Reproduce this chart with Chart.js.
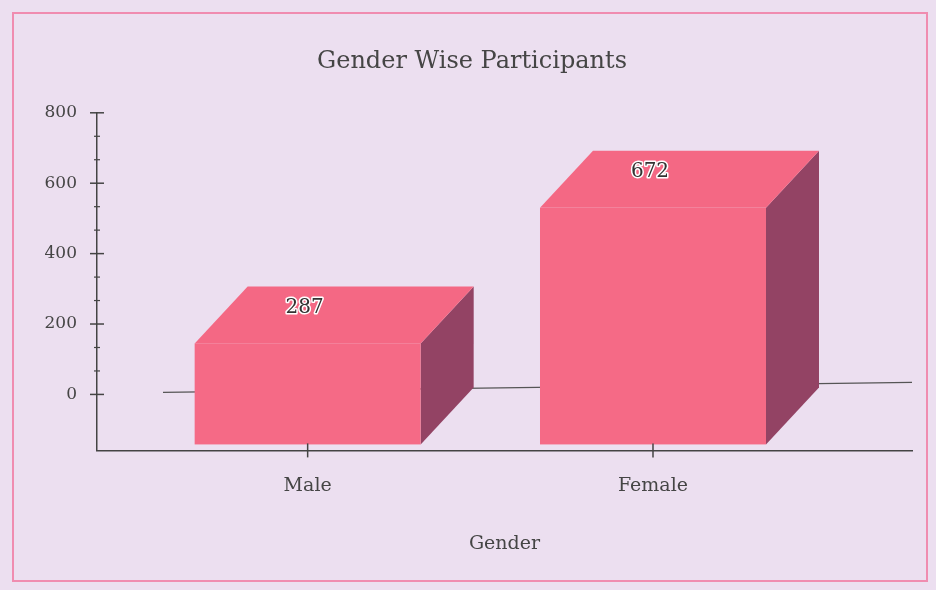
<!DOCTYPE html>
<html>
<head>
<meta charset="utf-8">
<script src="https://cdn.jsdelivr.net/npm/chart.js@4.4.1/dist/chart.umd.min.js"></script>
<style>
  html, body { margin: 0; padding: 0; background: #ecdff0; }
  #wrap { position: relative; width: 936px; height: 590px; }
  #frame { position: absolute; left: 12px; top: 12px; width: 916px; height: 570px; border: 2px solid #f08cb0; box-sizing: border-box; }
  canvas { position: absolute; left: 0; top: 0; }
</style>
</head>
<body>
<div id="wrap">
  <div id="frame"></div>
  <canvas id="c" width="936" height="590"></canvas>
</div>
<script>
const categories = ["Male", "Female"];
const participants = [287, 672];
const majorTicks = [0, 200, 400, 600, 800];
const minorTicks = [66.7, 133.3, 266.7, 333.3, 466.7, 533.3, 666.7, 733.3];

const FONT = "'DejaVu Serif', 'Liberation Serif', serif";
const TEXT = "#454545";

// 3D box plugin: front face shifted down, back face shifted up-right
const box3d = {
  id: "box3d",
  beforeDatasetsDraw(chart) {
    const { ctx, chartArea, scales } = chart;
    const y0 = scales.y.getPixelForValue(0);
    ctx.save();
    ctx.strokeStyle = "#555";
    ctx.lineWidth = 1.2;
    ctx.beginPath();
    ctx.moveTo(163, y0 - 2);
    ctx.lineTo(chartArea.right, y0 - 12);
    ctx.stroke();
    ctx.restore();
  },
  afterDatasetsDraw(chart) {
    const { ctx } = chart;
    const meta = chart.getDatasetMeta(0);
    const dyFront = 50, dx = 53, dyBack = -57;
    meta.data.forEach((el, i) => {
      const p = el.getProps(["x", "y", "base", "width"], true);
      const l = p.x - p.width / 2, r = p.x + p.width / 2;
      const t = p.y + dyFront, b = p.base + dyFront;
      ctx.save();
      // side face
      ctx.fillStyle = "#934364";
      ctx.beginPath();
      ctx.moveTo(r, t); ctx.lineTo(r + dx, t + dyBack);
      ctx.lineTo(r + dx, b + dyBack); ctx.lineTo(r, b); ctx.closePath();
      ctx.fill();
      // top face
      ctx.fillStyle = "#f46884";
      ctx.beginPath();
      ctx.moveTo(l, t); ctx.lineTo(l + dx, t + dyBack);
      ctx.lineTo(r + dx, t + dyBack); ctx.lineTo(r, t); ctx.closePath();
      ctx.fill();
      // front face
      ctx.fillStyle = "#f56a86";
      ctx.fillRect(l, t, r - l, b - t);
      // value label on top face
      ctx.font = "20px " + FONT;
      ctx.textAlign = "center";
      ctx.textBaseline = "middle";
      ctx.lineWidth = 3;
      ctx.strokeStyle = "#ffffff";
      ctx.lineJoin = "round";
      const lx = p.x - 3, ly = t - 36;
      ctx.strokeText(String(participants[i]), lx, ly);
      ctx.fillStyle = "#333333";
      ctx.fillText(String(participants[i]), lx, ly);
      ctx.restore();
    });
  },
  afterDraw(chart) {
    const { ctx, scales, chartArea } = chart;
    const ys = scales.y, xs = scales.x;
    const ax = chartArea.left;
    ctx.save();
    ctx.strokeStyle = "#444";
    ctx.lineWidth = 1.5;
    majorTicks.forEach(v => {
      const y = ys.getPixelForValue(v);
      ctx.beginPath(); ctx.moveTo(ax - 7, y); ctx.lineTo(ax + 7, y); ctx.stroke();
    });
    ctx.lineWidth = 1.2;
    minorTicks.forEach(v => {
      const y = ys.getPixelForValue(v);
      ctx.beginPath(); ctx.moveTo(ax - 3, y); ctx.lineTo(ax + 3, y); ctx.stroke();
    });
    // category ticks on the x axis
    ctx.lineWidth = 1.5;
    [0, 1].forEach(v => {
      const x = xs.getPixelForValue(v);
      ctx.beginPath(); ctx.moveTo(x, chartArea.bottom - 7); ctx.lineTo(x, chartArea.bottom + 7); ctx.stroke();
    });
    ctx.restore();
  }
};

new Chart(document.getElementById("c"), {
  type: "bar",
  data: {
    datasets: [{
      label: "Participants",
      data: participants.map((v, i) => ({ x: i, y: v })),
      backgroundColor: "rgba(0,0,0,0)",
      borderWidth: 0,
      barThickness: 226
    }]
  },
  options: {
    responsive: false,
    animation: false,
    layout: { padding: { left: 32, right: 24, top: 0, bottom: 35 } },
    plugins: {
      legend: { display: false },
      tooltip: { enabled: false },
      title: {
        display: true,
        text: "Gender Wise Participants",
        color: TEXT,
        font: { family: FONT, size: 24, weight: "normal" },
        padding: { top: 47, bottom: 37 }
      }
    },
    scales: {
      x: {
        type: "linear",
        min: -0.61,
        max: 1.75,
        offset: false,
        afterBuildTicks: (s) => { s.ticks = [{ value: 0 }, { value: 1 }]; },
        ticks: {
          color: TEXT,
          font: { family: FONT, size: 19, weight: "normal" },
          padding: 24,
          callback: (v) => categories[v] ?? ""
        },
        grid: { display: false, drawTicks: false },
        border: { display: true, color: "#444", width: 1.5 },
        title: {
          display: true,
          text: "Gender",
          color: TEXT,
          font: { family: FONT, size: 19, weight: "normal" },
          padding: { top: 11, bottom: 0 }
        }
      },
      y: {
        min: -159,
        max: 800,
        afterBuildTicks: (s) => { s.ticks = majorTicks.map(v => ({ value: v })); },
        afterFit: (s) => { s.width = 65; },
        ticks: {
          color: TEXT,
          font: { family: FONT, size: 17, weight: "normal" },
          padding: 20
        },
        grid: { display: false, drawTicks: false },
        border: { display: true, color: "#444", width: 1.5 }
      }
    }
  },
  plugins: [box3d]
});
</script>
</body>
</html>
